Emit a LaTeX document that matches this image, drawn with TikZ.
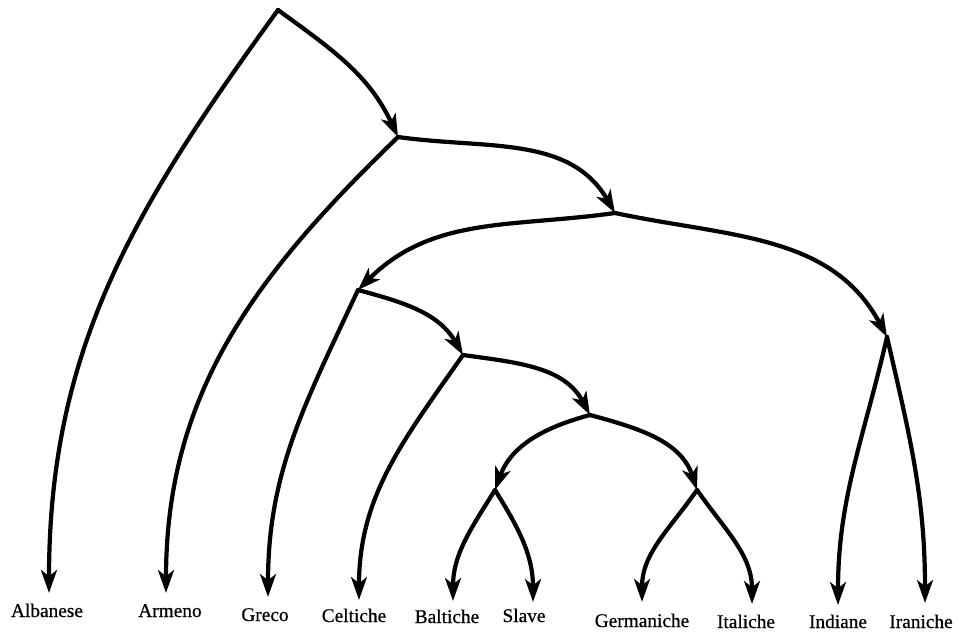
\documentclass[tikz,border=0pt]{standalone}
\usepackage{fontspec}
\setmainfont{Liberation Serif}
\newfontfamily\langfont{Liberation Serif}[FakeBold=0.6]
\usetikzlibrary{arrows.meta}
\begin{document}
\begin{tikzpicture}[x=0.02cm,y=-0.02cm,
  branch/.style={line width=2.4pt,line cap=round,line join=round},
  arr/.style={branch,-{Stealth[length=13pt,width=9pt,inset=3.5pt]}},
  lang/.style={anchor=base,font=\langfont\fontsize{11}{13}\selectfont,inner sep=0pt}]
\useasboundingbox (0,0) rectangle (959,635);

% branching points of the tree
\coordinate (root) at (278,10);
\coordinate (n1) at (398,137);
\coordinate (n2) at (615,213);
\coordinate (n3) at (358,290);
\coordinate (n4) at (463,355);
\coordinate (n5) at (590,415);
\coordinate (n6) at (495,490);
\coordinate (n7) at (697,490);
\coordinate (n8) at (887,337);

% arrow tips above the language names
\coordinate (tAlb) at (49,593);
\coordinate (tArm) at (166,593);
\coordinate (tGre) at (268,597);
\coordinate (tCel) at (359,600);
\coordinate (tBal) at (453,601);
\coordinate (tSla) at (533,602);
\coordinate (tGer) at (642,602);
\coordinate (tIta) at (752,604);
\coordinate (tInd) at (838,605);
\coordinate (tIra) at (925,603);

% language names
\node[lang] (Alb) at (47,617) {Albanese};
\node[lang] (Arm) at (170,617) {Armeno};
\node[lang] (Gre) at (265,621) {Greco};
\node[lang] (Cel) at (354,622) {Celtiche};
\node[lang] (Bal) at (447,623) {Baltiche};
\node[lang] (Sla) at (524,622) {Slave};
\node[lang] (Ger) at (642,627) {Germaniche};
\node[lang] (Ita) at (746,628) {Italiche};
\node[lang] (Ind) at (838,628) {Indiane};
\node[lang] (Ira) at (921,628) {Iraniche};

% branches
\draw[arr] (root) to[out=-126,in=90] (tAlb);
\draw[arr] (root) to[out=-36,in=115] (n1);
\draw[arr] (n1) to[out=-136,in=90] (tArm);
\draw[arr] (n1) to[out=-8,in=120] (n2);
\draw[arr] (n2) to[out=188,in=45] (n3);
\draw[arr] (n2) to[out=-12,in=118] (n8);
\draw[arr] (n3) to[out=-115,in=90] (tGre);
\draw[arr] (n3) to[out=-15,in=120] (n4);
\draw[arr] (n4) to[out=-125,in=90] (tCel);
\draw[arr] (n4) to[out=-8,in=118] (n5);
\draw[arr] (n5) to[out=195,in=70] (n6);
\draw[arr] (n5) to[out=-15,in=108] (n7);
\draw[arr] (n6) to[out=-122,in=90] (tBal);
\draw[arr] (n6) to[out=-58,in=90] (tSla);
\draw[arr] (n7) to[out=-125,in=90] (tGer);
\draw[arr] (n7) to[out=-55,in=90] (tIta);
\draw[arr] (n8) to[out=-103,in=90] (tInd);
\draw[arr] (n8) to[out=-77,in=90] (tIra);
\end{tikzpicture}
\end{document}
